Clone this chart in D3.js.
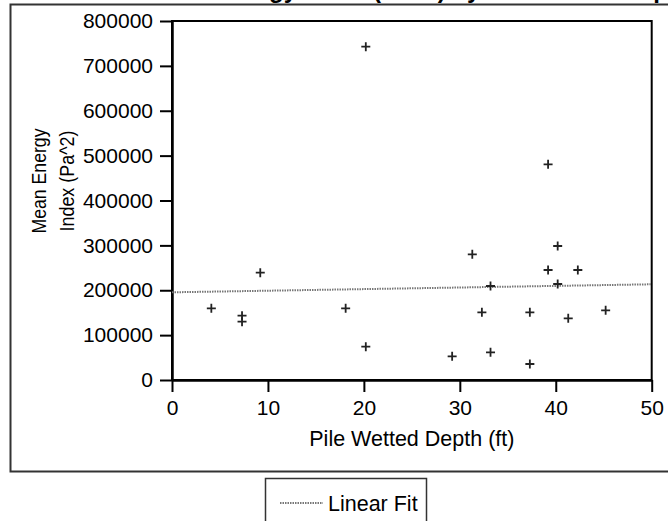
<!DOCTYPE html>
<html>
<head>
<meta charset="utf-8">
<script src="https://cdn.jsdelivr.net/npm/d3@7"></script>
<style>
  body { margin: 0; background: #fff; }
  svg { display: block; font-family: "Liberation Sans", Arial, sans-serif; }
</style>
</head>
<body>
<div id="chart"></div>
<script>
// values
const depth = [4.1, 7.3, 7.3, 9.2, 18.1, 20.2, 20.2, 29.2, 31.3, 32.3, 33.2,
               33.2, 37.3, 37.3, 39.2, 39.2, 40.2, 40.2, 41.3, 42.3, 45.2];
const energy = [159800, 143300, 129900, 239100, 159800, 74200, 742700, 52800,
                280100, 150900, 209500, 61700, 150900, 35700, 480700, 245100,
                298600, 213900, 137500, 245100, 155300];
const fitDepth = [0, 50];
const fitEnergy = [195400, 213300];
const xTicks = [0, 10, 20, 30, 40, 50];
const yTicks = [0, 100000, 200000, 300000, 400000, 500000, 600000, 700000, 800000];

const width = 668, height = 521;
const plotL = 172, plotR = 651.7, plotT = 21, plotB = 380;

const svg = d3.select("#chart").append("svg")
    .attr("width", width)
    .attr("height", height);

// outer frame
svg.append("rect")
    .attr("x", 10.5).attr("y", 4.5)
    .attr("width", 680).attr("height", 467)
    .attr("fill", "none")
    .attr("stroke", "#333")
    .attr("stroke-width", 2);

// title, mostly cut off above the picture
const title = svg.append("text")
    .attr("y", -2)
    .attr("font-size", "24px")
    .attr("font-weight", "bold")
    .text("Mean Energy Index (Pa^2) by Pile Wetted Depth");
const paren = title.node().getStartPositionOfChar(18).x;
title.attr("x", 373 - paren);

const x = d3.scaleLinear().domain([0, 50]).range([plotL, plotR]);
const y = d3.scaleLinear().domain([0, 800000]).range([plotB, plotT]);

// plot box
svg.append("rect")
    .attr("x", plotL).attr("y", plotT)
    .attr("width", plotR - plotL).attr("height", plotB - plotT)
    .attr("fill", "none")
    .attr("stroke", "#000")
    .attr("stroke-width", 2);

const yAxis = svg.append("g")
    .attr("transform", `translate(${plotL},0)`)
    .call(d3.axisLeft(y).tickValues(yTicks).tickSize(12).tickSizeOuter(0)
        .tickPadding(7).tickFormat(d3.format("d")));

const xAxis = svg.append("g")
    .attr("transform", `translate(0,${plotB})`)
    .call(d3.axisBottom(x).tickValues(xTicks).tickSize(12).tickSizeOuter(0)
        .tickPadding(8));

[xAxis, yAxis].forEach(ax => {
    ax.select(".domain").attr("stroke-width", 2.5);
    ax.selectAll(".tick line").attr("stroke-width", 2);
    ax.selectAll(".tick text")
        .attr("font-size", "21px")
        .attr("font-family", "Liberation Sans, Arial, sans-serif")
        .attr("fill", "#000");
});

// axis titles
svg.append("text")
    .attr("x", (plotL + plotR) / 2)
    .attr("y", 446)
    .attr("text-anchor", "middle")
    .attr("font-size", "21.5px")
    .text("Pile Wetted Depth (ft)");

const yLab = svg.append("text")
    .attr("transform", "translate(0,181) rotate(-90)")
    .attr("text-anchor", "middle")
    .attr("font-size", "21px");
yLab.append("tspan").attr("x", 0).attr("y", 46)
    .attr("textLength", 105).attr("lengthAdjust", "spacingAndGlyphs")
    .text("Mean Energy");
yLab.append("tspan").attr("x", 0).attr("y", 74)
    .attr("textLength", 101).attr("lengthAdjust", "spacingAndGlyphs")
    .text("Index (Pa^2)");

// linear fit
const fitLine = d3.line()
    .x((d, i) => x(fitDepth[i]))
    .y(d => y(d));

svg.append("path")
    .datum(fitEnergy)
    .attr("d", fitLine)
    .attr("fill", "none")
    .attr("stroke", "#777")
    .attr("stroke-width", 2)
    .attr("stroke-dasharray", "1.5,1");

// markers
const marker = "M-4.5,0H4.5M0,-4.5V4.5";
svg.append("g")
    .selectAll("path")
    .data(depth)
    .enter()
    .append("path")
    .attr("transform", (d, i) => `translate(${x(d)},${y(energy[i])})`)
    .attr("d", marker)
    .attr("fill", "none")
    .attr("stroke", "#222")
    .attr("stroke-width", 1.8);

// legend
const legend = svg.append("g");
legend.append("rect")
    .attr("x", 265.5).attr("y", 478.5)
    .attr("width", 161).attr("height", 60)
    .attr("fill", "#fff")
    .attr("stroke", "#333")
    .attr("stroke-width", 1.5);
legend.append("line")
    .attr("x1", 280).attr("x2", 323)
    .attr("y1", 503).attr("y2", 503)
    .attr("stroke", "#777")
    .attr("stroke-width", 2)
    .attr("stroke-dasharray", "1.5,1");
legend.append("text")
    .attr("x", 328).attr("y", 510.5)
    .attr("font-size", "21.5px")
    .text("Linear Fit");
</script>
</body>
</html>
